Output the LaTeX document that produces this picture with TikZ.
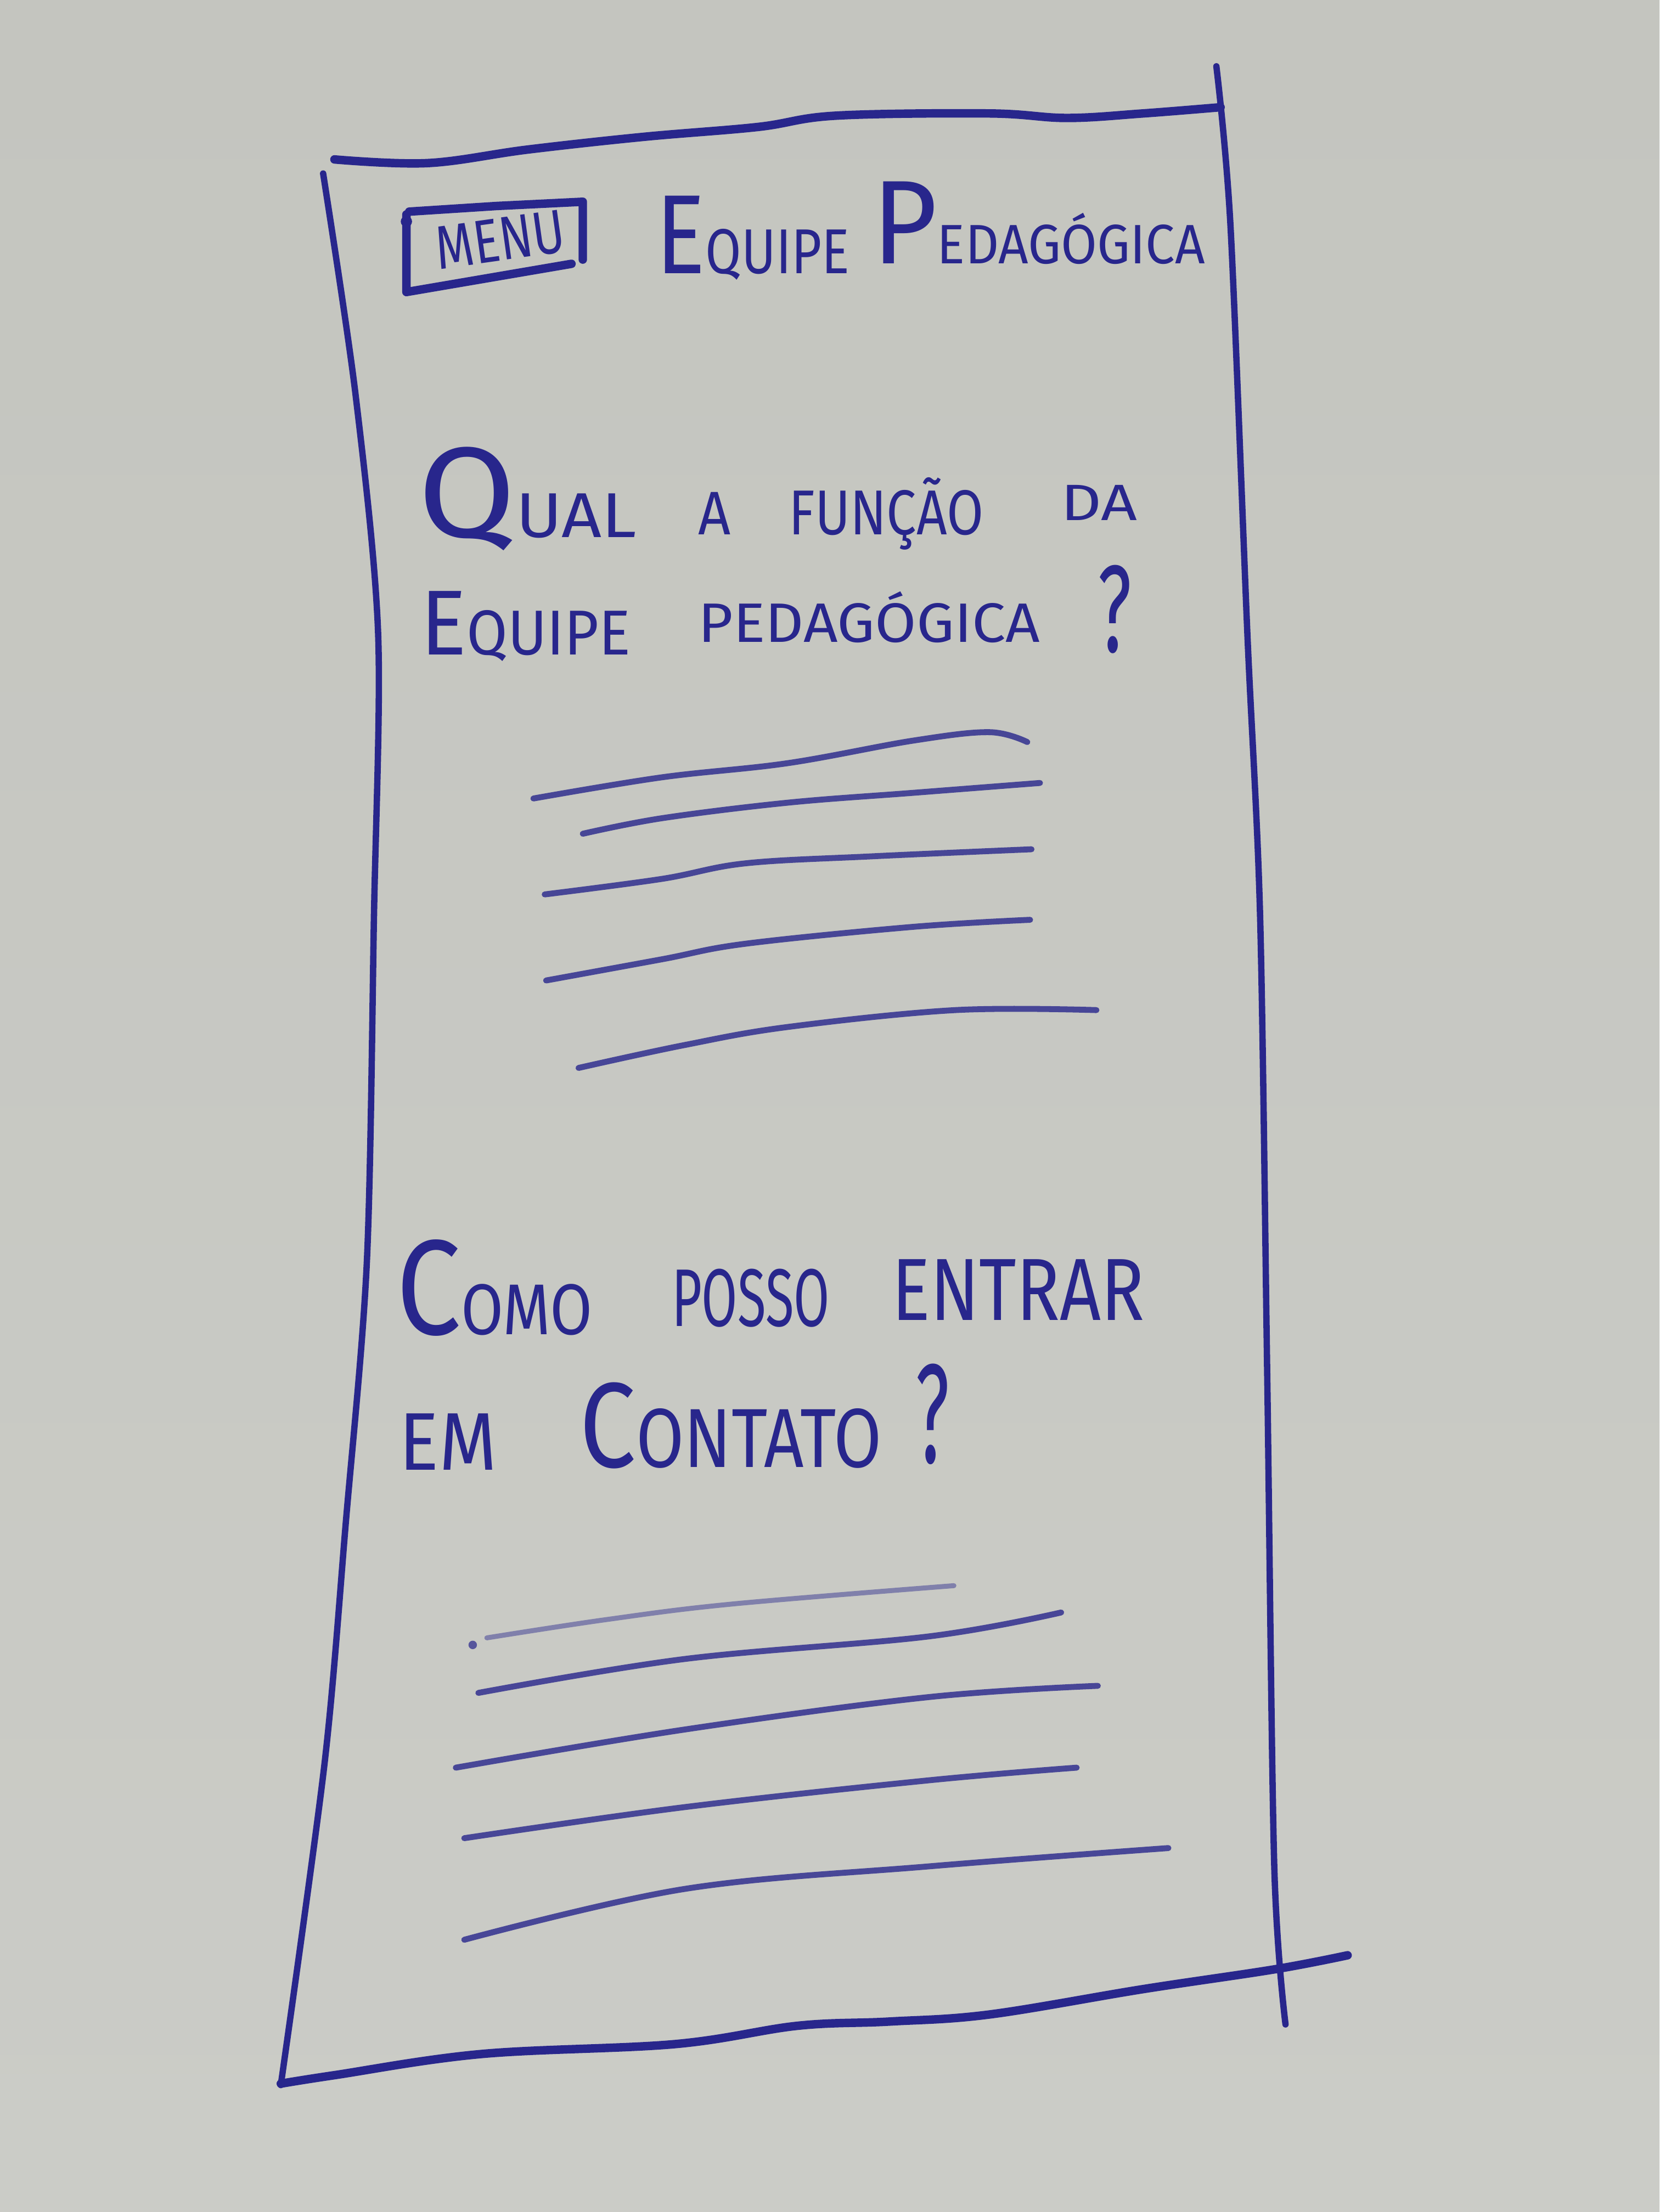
\documentclass[tikz,border=0pt]{standalone}
\usepackage{fontspec}
\usepackage{graphicx}
\setmainfont{Fira Sans}
\definecolor{paper}{RGB}{196,197,191}
\definecolor{paperlight}{RGB}{203,204,199}
\definecolor{ink}{RGB}{40,38,140}
\newcommand{\hwfit}[2]{\resizebox{#1}{\height}{#2}}
\newcommand{\hwsz}[1]{\fontsize{#1}{#1}\selectfont}
\tikzset{
  hw/.style={anchor=base west, inner sep=0pt, outer sep=0pt, text=ink},
  frameline/.style={draw=ink, line width=0.45mm, line cap=round, line join=round},
  boldline/.style={draw=ink, line width=0.6mm, line cap=round, line join=round},
  ruleline/.style={draw=ink, line width=0.42mm, line cap=round, opacity=0.8},
  faintline/.style={draw=ink, line width=0.35mm, line cap=round, opacity=0.45}
}
\begin{document}
\begin{tikzpicture}[x=0.1mm,y=-0.1mm]
\useasboundingbox (0,0) rectangle (1176,1568);
\shade[top color=paper, bottom color=paperlight] (0,0) rectangle (1176,1568);

% ---- phone frame ----
\draw[boldline] plot[smooth, tension=0.6] coordinates {(237,113) (303,115.6) (374,106) (456,97) (537,90) (592,82) (701,80.4) (756,83.6) (810,80.4) (865,76)};
\draw[frameline] plot[smooth, tension=0.5] coordinates {(229,123) (252,280) (268,450) (265,650) (260,894) (245,1080) (230,1250) (199,1478)};
\draw[frameline] plot[smooth, tension=0.5] coordinates {(862,47) (872,160) (884,450) (893,650) (898,972) (903,1322) (911,1435)};
\draw[boldline] plot[smooth, tension=0.6] coordinates {(199,1477) (237,1471) (341,1456) (478,1449) (565,1436) (630,1433) (701,1428) (810,1410) (903,1396) (955,1386)};

% ---- menu box ----
\draw[boldline] (290,150) -- (352,146) -- (413,143) -- (413,184);
\draw[boldline] (405,187) -- (288,207) -- (288,152);
\fill[ink] (288,157) circle (4);
\node[hw, rotate=8] (menu) at (311,191) {\hwfit{9.2mm}{\hwsz{12.4pt}MENU}};

% ---- title ----
\node[hw] (title1) at (465,194) {\hwfit{13.7mm}{\hwsz{22.7pt}E\hwsz{12.8pt}QUIPE}};
\node[hw] (title2) at (618,187) {\hwfit{23.6mm}{\hwsz{24pt}P\hwsz{11.2pt}EDAGÓGICA}};

% ---- question 1 ----
\node[hw] (q1a) at (296,381) {\hwfit{15.5mm}{\hwsz{26pt}Q\hwsz{12.8pt}UAL}};
\node[hw] (q1b) at (495,379) {\hwfit{2.3mm}{\hwsz{12.4pt}A}};
\node[hw] (q1c) at (559,379) {\hwfit{13.8mm}{\hwsz{12.8pt}FUNÇÃO}};
\node[hw] (q1d) at (752,369) {\hwfit{5.4mm}{\hwsz{10.3pt}DA}};
\node[hw] (q1e) at (298,464) {\hwfit{14.9mm}{\hwsz{18.6pt}E\hwsz{12.8pt}QUIPE}};
\node[hw] (q1f) at (495,455) {\hwfit{24.2mm}{\hwsz{11.2pt}PEDAGÓGICA}};
\node[hw] (q1g) at (778,462) {\hwfit{2.4mm}{\hwsz{25pt}?}};

% ---- text lines 1 ----
\draw[ruleline] plot[smooth, tension=0.6] coordinates {(378,566) (469,551) (558,541) (647,525) (701,519) (728,526)};
\draw[ruleline] plot[smooth, tension=0.6] coordinates {(413,591) (469,580) (558,569) (647,562) (737,555)};
\draw[ruleline] plot[smooth, tension=0.6] coordinates {(386,634) (469,623) (528,612) (618,607) (731,602)};
\draw[ruleline] plot[smooth, tension=0.6] coordinates {(387,695) (469,680) (528,669) (647,657) (730,652)};
\draw[ruleline] plot[smooth, tension=0.6] coordinates {(410,757) (484,741) (558,728) (677,716) (777,716)};

% ---- question 2 ----
\node[hw] (q2a) at (281,946) {\hwfit{13.9mm}{\hwsz{27.3pt}C\hwsz{14.5pt}OMO}};
\node[hw] (q2b) at (476,940) {\hwfit{11.2mm}{\hwsz{16.5pt}POSSO}};
\node[hw] (q2c) at (632,936) {\hwfit{17.9mm}{\hwsz{17.8pt}ENTRAR}};
\node[hw] (q2d) at (283,1042) {\hwfit{6.9mm}{\hwsz{16.5pt}EM}};
\node[hw] (q2e) at (411,1040) {\hwfit{21.4mm}{\hwsz{24.4pt}C\hwsz{16.9pt}ONTATO}};
\node[hw] (q2f) at (649,1037) {\hwfit{2.4mm}{\hwsz{28.5pt}?}};

% ---- text lines 2 ----
\fill[ink, opacity=0.7] (335,1166) circle (3);
\draw[faintline] plot[smooth, tension=0.6] coordinates {(345,1161) (430,1148) (519,1137) (676,1124)};
\draw[ruleline] plot[smooth, tension=0.6] coordinates {(339,1200) (485,1176) (658,1160) (752,1143)};
\draw[ruleline] plot[smooth, tension=0.6] coordinates {(323,1253) (485,1226) (658,1203) (778,1195)};
\draw[ruleline] plot[smooth, tension=0.6] coordinates {(329,1303) (485,1281) (658,1262) (763,1253)};
\draw[ruleline] plot[smooth, tension=0.6] coordinates {(329,1375) (485,1339) (658,1323) (828,1310)};
\end{tikzpicture}
\end{document}
